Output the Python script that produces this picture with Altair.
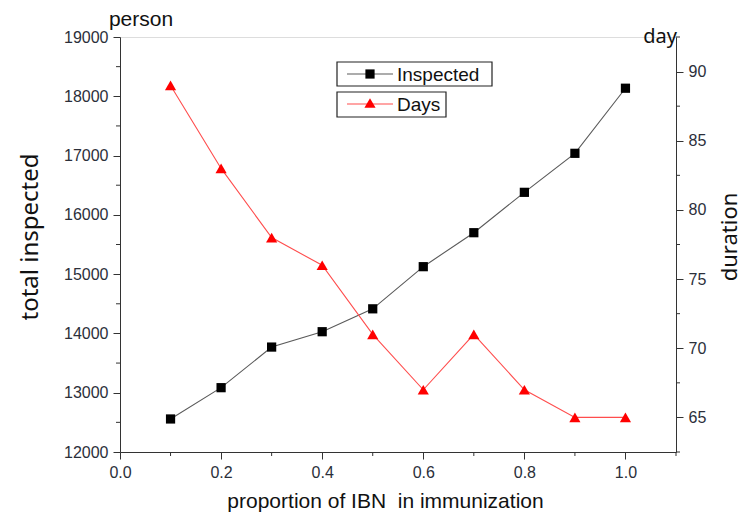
import altair as alt
import pandas as pd

proportion = [0.1, 0.2, 0.3, 0.4, 0.5, 0.6, 0.7, 0.8, 0.9, 1.0]
inspected = [12557, 13085, 13770, 14029, 14415, 15126, 15699, 16380, 17038, 18136]
days = [89, 83, 78, 76, 71, 67, 71, 67, 65, 65]

x_major = [0.0, 0.2, 0.4, 0.6, 0.8, 1.0]
x_minor = [0.1, 0.3, 0.5, 0.7, 0.9, 1.1]
left_major = [12000, 13000, 14000, 15000, 16000, 17000, 18000, 19000]
left_minor = [12500, 13500, 14500, 15500, 16500, 17500, 18500]
right_major = [65, 70, 75, 80, 85, 90]
right_minor = [62.5, 67.5, 72.5, 77.5, 82.5, 87.5, 92.5]

df = pd.DataFrame({"p": proportion, "inspected": inspected, "days": days})

W, H = 556, 415
AX = "#333333"
LBL = "#2b2f3a"
TICKF = "Liberation Sans"
TITLEF = "Noto Sans"
RED_LINE = "#ff4d4d"

xscale = alt.Scale(domain=[0, 1.1], nice=False, zero=False)
lscale = alt.Scale(domain=[12000, 19000], nice=False, zero=False)
rscale = alt.Scale(domain=[62.5, 92.5], nice=False, zero=False)


def x_axis():
    return alt.Axis(
        values=x_major, format=".1f", tickSize=7, tickColor=AX, domainColor=AX,
        labelFont=TICKF, labelFontSize=16, labelColor=LBL, labelPadding=5,
        title="proportion of IBN\u00a0 in immunization", titleFont=TICKF, titleFontSize=21,
        titleFontWeight="normal", titleColor="#111111", titlePadding=10, grid=False,
        titleX=265, titleAlign="center", labelFlush=False,
    )


insp = alt.Chart(df).mark_line(
    color="#5a5a5a", strokeWidth=1.1,
    point=alt.OverlayMarkDef(shape="square", filled=True, size=85, color="black", opacity=1),
).encode(
    x=alt.X("p:Q", scale=xscale, axis=x_axis()),
    y=alt.Y("inspected:Q", scale=lscale, axis=alt.Axis(
        orient="left", values=left_major, format="d", tickSize=7, tickColor=AX,
        domainColor=AX, labelFont=TICKF, labelFontSize=16, labelColor=LBL,
        labelPadding=5, grid=False, title="total inspected", titleFont=TITLEF,
        titleFontSize=24, titleFontWeight="normal", titleColor="#111111",
        titleX=-90, titleY=H / 2 - 8, titleAngle=-90, titleBaseline="middle",
        titleAlign="center", labelFlush=False,
    )),
)

insp_minor = alt.Chart(pd.DataFrame({"v": left_minor})).mark_rule(
    color=AX, strokeWidth=1
).encode(
    y=alt.Y("v:Q", scale=lscale, axis=None),
    x=alt.value(-4), x2=alt.value(0),
)

dayl = alt.Chart(df).mark_line(
    color=RED_LINE, strokeWidth=1.1,
    point=alt.OverlayMarkDef(shape="triangle-up", filled=True, size=125, color="red", opacity=1),
).encode(
    x=alt.X("p:Q", scale=xscale, axis=x_axis()),
    y=alt.Y("days:Q", scale=rscale, axis=alt.Axis(
        orient="right", values=right_major, format="d", tickSize=7, tickColor=AX,
        domainColor=AX, labelFont=TICKF, labelFontSize=16, labelColor=LBL,
        labelPadding=5, grid=False, title="duration", titleFont=TITLEF,
        titleFontSize=22, titleFontWeight="normal", titleColor="#111111",
        titleX=53, titleY=H / 2 - 8, titleAngle=-90, titleBaseline="middle",
        titleAlign="center", labelFlush=False,
    )),
)

day_minor = alt.Chart(pd.DataFrame({"v": right_minor})).mark_rule(
    color=AX, strokeWidth=1
).encode(
    y=alt.Y("v:Q", scale=rscale, axis=None),
    x=alt.value(W), x2=alt.value(W + 4),
)

x_minor_l = alt.Chart(pd.DataFrame({"v": x_minor})).mark_rule(
    color=AX, strokeWidth=1
).encode(
    x=alt.X("v:Q", scale=xscale, axis=x_axis()),
    y=alt.value(H), y2=alt.value(H + 4),
)

one = pd.DataFrame({"a": [0]})
base = alt.Chart(one)

decos = [
    base.mark_text(text="person", font=TICKF, fontSize=21, color="#111111",
                   align="center", baseline="alphabetic").encode(
        x=alt.value(21), y=alt.value(-11)),
    base.mark_text(text="day", font=TITLEF, fontSize=20, color="#111111",
                   align="center", baseline="alphabetic").encode(
        x=alt.value(540), y=alt.value(6)),
    base.mark_rect(fill="white", stroke="#222222", strokeWidth=1.2).encode(
        x=alt.value(217), x2=alt.value(372), y=alt.value(25), y2=alt.value(49)),
    base.mark_rect(fill="white", stroke="#222222", strokeWidth=1.2).encode(
        x=alt.value(217), x2=alt.value(326), y=alt.value(55), y2=alt.value(80)),
    base.mark_rule(color="#5a5a5a", strokeWidth=1.1).encode(
        x=alt.value(227), x2=alt.value(273), y=alt.value(37)),
    base.mark_rule(color=RED_LINE, strokeWidth=1.1).encode(
        x=alt.value(227), x2=alt.value(273), y=alt.value(67)),
    base.mark_point(shape="square", filled=True, size=85, color="black", opacity=1).encode(
        x=alt.value(250), y=alt.value(37)),
    base.mark_point(shape="triangle-up", filled=True, size=125, color="red", opacity=1).encode(
        x=alt.value(250), y=alt.value(66)),
    base.mark_text(text="Inspected", font=TICKF, fontSize=19, color="#111111",
                   align="left", baseline="middle").encode(
        x=alt.value(277), y=alt.value(38)),
    base.mark_text(text="Days", font=TICKF, fontSize=19, color="#111111",
                   align="left", baseline="middle").encode(
        x=alt.value(277), y=alt.value(68)),
]

chart = alt.layer(insp, insp_minor, dayl, day_minor, x_minor_l, *decos).resolve_scale(
    y="independent"
).properties(
    width=W, height=H,
    autosize=alt.AutoSizeParams(type="none"),
    padding={"left": 112, "top": 29, "right": 66, "bottom": 64},
).configure_view(strokeWidth=0, stroke="transparent").configure(background="white")

chart.save("out.html", embed_options={"renderer": "svg", "actions": False})
